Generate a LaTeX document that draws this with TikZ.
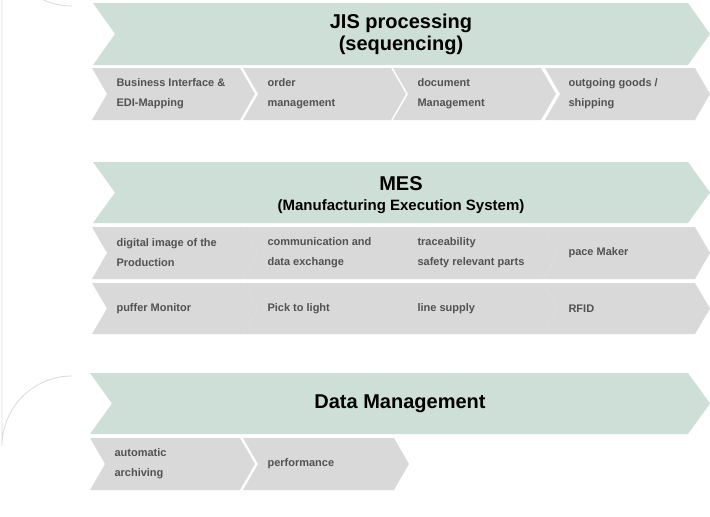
\documentclass[tikz,border=0pt]{standalone}
\usepackage{fontspec}
\setmainfont{Liberation Sans}
\begin{document}
\begin{tikzpicture}[x=1pt,y=-1pt,
  big/.style={fill=green!20!gray!30!white},
  sm/.style={fill=gray!28},
  ttl/.style={font=\fontsize{20}{22}\selectfont\bfseries,align=center,text=black},
  ttl2/.style={font=\fontsize{15}{18}\selectfont\bfseries,align=center,text=black},
  lbl/.style={font=\fontsize{11}{20}\selectfont\bfseries,align=left,anchor=west,text=black!68}]
\definecolor{bigc}{HTML}{CDDFD6}
\definecolor{smc}{HTML}{D9D9D9}
\useasboundingbox (0,0) rectangle (710,517);
\newcommand{\chv}[6]{\fill[#6] (#1,#2) -- ({#3-#5},#2) -- (#3,{(#2+#4)/2}) -- ({#3-#5},#4) -- (#1,#4) -- ({#1+#5},{(#2+#4)/2}) -- cycle;}
% bracket
\draw[black!15,line width=0.8] (72,6) arc[start angle=90,end angle=180,radius=70] -- (2,446) arc[start angle=180,end angle=270,radius=70];
% JIS
\chv{93}{3}{710}{65}{22}{bigc}
\node[ttl] (jis) at (401,34) {JIS processing\\(sequencing)};
\chv{92}{68}{255}{120}{15}{smc}
\chv{243}{68}{406}{120}{15}{smc}
\chv{393}{68}{556}{120}{15}{smc}
\chv{545}{68}{710}{120}{15}{smc}
\node[lbl] (j1) at (113,94) {Business Interface \&\\EDI-Mapping};
\node[lbl] (j2) at (264,94) {order\\management};
\node[lbl] (j3) at (414,94) {document\\Management};
\node[lbl] (j4) at (565,94) {outgoing goods /\\shipping};
% MES
\chv{93}{162}{710}{223}{22}{bigc}
\node[ttl,font=\fontsize{20}{22}\selectfont\bfseries] (mes) at (401,184) {MES};
\node[ttl2] (mes2) at (401,207) {(Manufacturing Execution System)};
\chv{92}{227}{258}{279}{15}{smc}
\chv{243}{227}{408}{279}{15}{smc}
\chv{391}{227}{558}{279}{15}{smc}
\chv{543}{227}{710}{279}{15}{smc}
\node[lbl] (m1) at (113,253) {digital image of the\\Production};
\node[lbl] (m2) at (264,253) {communication and\\data exchange};
\node[lbl] (m3) at (414,253) {traceability\\safety relevant parts};
\node[lbl] (m4) at (565,253) {pace Maker};
\chv{92}{283}{258}{334}{15}{smc}
\chv{243}{283}{408}{334}{15}{smc}
\chv{391}{283}{558}{334}{15}{smc}
\chv{543}{283}{710}{334}{15}{smc}
\node[lbl] (m5) at (113,309) {puffer Monitor};
\node[lbl] (m6) at (264,309) {Pick to light};
\node[lbl] (m7) at (414,309) {line supply};
\node[lbl] (m8) at (565,309) {RFID};
% Data
\chv{90}{373}{710}{434}{22}{bigc}
\node[ttl] (dm) at (400,404) {Data Management};
\chv{90}{438}{255}{490}{15}{smc}
\chv{243}{438}{409}{490}{15}{smc}
\node[lbl] (d1) at (111,464) {automatic\\archiving};
\node[lbl] (d2) at (264,464) {performance};
\end{tikzpicture}
\end{document}
